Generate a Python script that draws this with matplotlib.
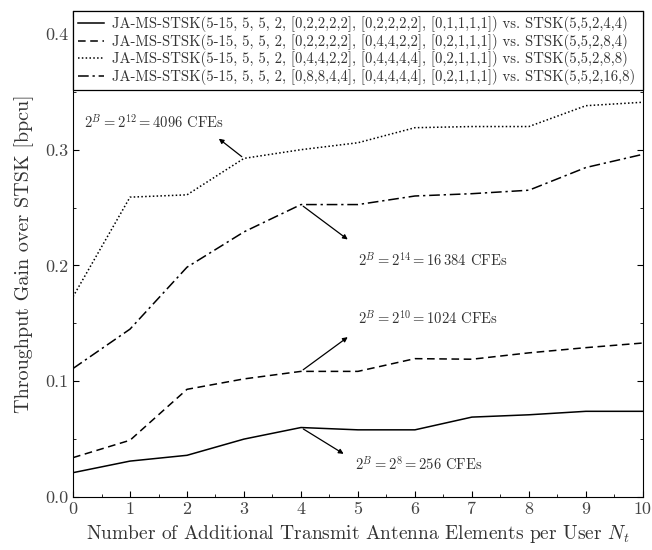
import numpy as np
import matplotlib
matplotlib.use("Agg")
import matplotlib.pyplot as plt
from matplotlib.ticker import MultipleLocator

plt.rcParams["font.family"] = "serif"
plt.rcParams["font.serif"] = ["cmr10", "DejaVu Serif"]
plt.rcParams["mathtext.fontset"] = "cm"
plt.rcParams["axes.formatter.use_mathtext"] = True

# data
nt = [0, 1, 2, 3, 4, 5, 6, 7, 8, 9, 10]
gain_256 = [0.021, 0.031, 0.036, 0.050, 0.060, 0.058, 0.058, 0.069, 0.071, 0.074, 0.074]
gain_1024 = [0.034, 0.049, 0.093, 0.102, 0.1085, 0.1085, 0.1195, 0.119, 0.1245, 0.129, 0.133]
gain_4096 = [0.173, 0.259, 0.261, 0.2925, 0.300, 0.306, 0.319, 0.320, 0.320, 0.338, 0.341]
gain_16384 = [0.111, 0.145, 0.1985, 0.229, 0.2526, 0.2526, 0.260, 0.262, 0.265, 0.2846, 0.296]

labels = [
    "JA-MS-STSK(5-15, 5, 5, 2, [0,2,2,2,2], [0,2,2,2,2], [0,1,1,1,1]) vs. STSK(5,5,2,4,4)",
    "JA-MS-STSK(5-15, 5, 5, 2, [0,2,2,2,2], [0,4,4,2,2], [0,2,1,1,1]) vs. STSK(5,5,2,8,4)",
    "JA-MS-STSK(5-15, 5, 5, 2, [0,4,4,2,2], [0,4,4,4,4], [0,2,1,1,1]) vs. STSK(5,5,2,8,8)",
    "JA-MS-STSK(5-15, 5, 5, 2, [0,8,8,4,4], [0,4,4,4,4], [0,2,1,1,1]) vs. STSK(5,5,2,16,8)",
]

fig = plt.figure(figsize=(6.52, 5.5), dpi=100)
ax = fig.add_axes([0.112, 0.0964, 0.874, 0.884])

ax.plot(nt, gain_256, "k-", lw=1.1, label=labels[0])
ax.plot(nt, gain_1024, "k", ls=(0, (5, 3)), lw=1.1, label=labels[1])
ax.plot(nt, gain_4096, "k", ls=(0, (1, 1.5)), lw=1.1, label=labels[2])
ax.plot(nt, gain_16384, "k", ls=(0, (7, 2.5, 1.5, 2.5)), lw=1.1, label=labels[3])

ax.set_xlim(0, 10)
ax.set_ylim(0, 0.42)
ax.xaxis.set_major_locator(MultipleLocator(1))
ax.xaxis.set_minor_locator(MultipleLocator(0.5))
ax.yaxis.set_major_locator(MultipleLocator(0.1))
ax.yaxis.set_minor_locator(MultipleLocator(0.05))
ax.tick_params(which="both", direction="in", top=True, right=True, labelsize=13, colors="k")
ax.tick_params(which="major", length=4)
ax.tick_params(which="minor", length=2)
ax.set_xticks(nt)
ax.set_xticklabels([str(n) for n in nt], color="#444444")
ax.set_yticks([0.0, 0.1, 0.2, 0.3, 0.4])
ax.set_yticklabels(["0.0", "0.1", "0.2", "0.3", "0.4"], color="#444444")

ax.set_xlabel(r"Number of Additional Transmit Antenna Elements per User $N_t$", fontsize=14, color="#333333")
ax.set_ylabel("Throughput Gain over STSK [bpcu]", fontsize=14.5, color="#333333", labelpad=8)

leg = ax.legend(loc="upper left", bbox_to_anchor=(0, 1, 1, 0), mode="expand",
                borderaxespad=0, fontsize=10.6, frameon=True, fancybox=False,
                handlelength=1.75, handletextpad=0.55, labelspacing=0.12,
                borderpad=0.35)
leg.get_frame().set_edgecolor("k")
leg.get_frame().set_linewidth(0.9)
leg.get_frame().set_alpha(1)
for t in leg.get_texts():
    t.set_color("#333333")

arrow = dict(arrowstyle="-|>", color="k", lw=0.9, mutation_scale=7)
ax.annotate("", xy=(2.52, 0.311), xytext=(3, 0.2925), arrowprops=arrow)
ax.text(0.2, 0.324, r"$2^B=2^{12}=4096$ CFEs", fontsize=10.5, va="center", color="#333333")

ax.annotate("", xy=(4.86, 0.221), xytext=(4, 0.2526), arrowprops=arrow)
ax.text(5.0, 0.2045, r"$2^B=2^{14}=16\,384$ CFEs", fontsize=10.5, va="center", color="#333333")

ax.annotate("", xy=(4.86, 0.1395), xytext=(4, 0.1085), arrowprops=arrow)
ax.text(5.0, 0.1545, r"$2^B=2^{10}=1024$ CFEs", fontsize=10.5, va="center", color="#333333")

ax.annotate("", xy=(4.79, 0.036), xytext=(4, 0.060), arrowprops=arrow)
ax.text(4.95, 0.0285, r"$2^B=2^{8}=256$ CFEs", fontsize=10.5, va="center", color="#333333")

fig.savefig("out.png", dpi=100)
